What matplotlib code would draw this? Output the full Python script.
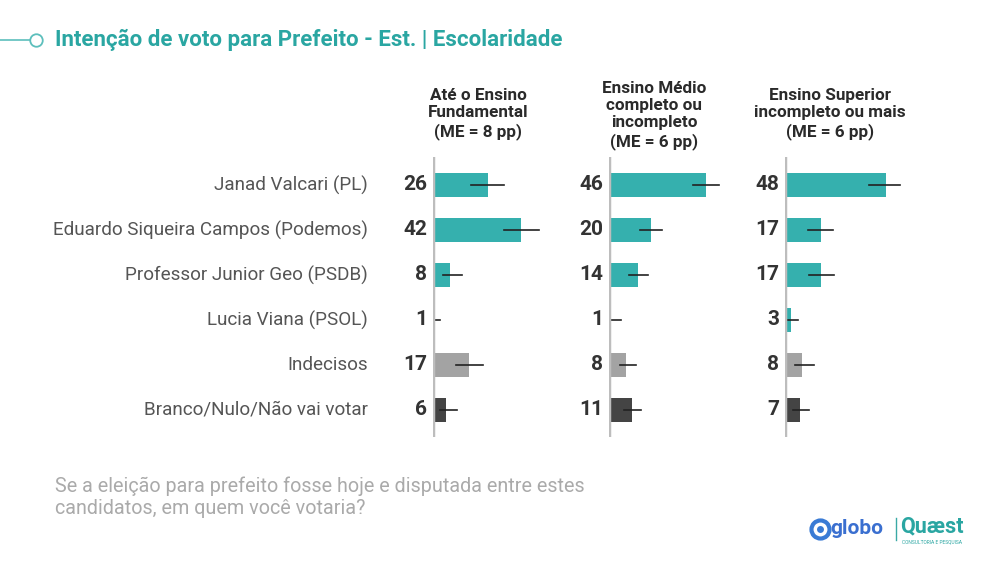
import matplotlib.pyplot as plt
from matplotlib.lines import Line2D

plt.rcParams['font.family'] = ['Roboto', 'DejaVu Sans']

candidatos = ['Janad Valcari (PL)', 'Eduardo Siqueira Campos (Podemos)',
              'Professor Junior Geo (PSDB)', 'Lucia Viana (PSOL)',
              'Indecisos', 'Branco/Nulo/Não vai votar']
grupos = ['Até o Ensino\nFundamental\n(ME = 8 pp)',
          'Ensino Médio\ncompleto ou\nincompleto\n(ME = 6 pp)',
          'Ensino Superior\nincompleto ou mais\n(ME = 6 pp)']
fundamental = [26, 42, 8, 1, 17, 6]
medio = [46, 20, 14, 1, 8, 11]
superior = [48, 17, 17, 3, 8, 7]
valores = [fundamental, medio, superior]

# intervals (lower, upper)
inf_fundamental = [18, 34, 5, 0, 11, 3.3]
sup_fundamental = [34, 50.5, 13.7, 3.5, 24, 11.2]
inf_medio = [40, 14.8, 9.5, 0, 5.2, 7.1]
sup_medio = [52.4, 25.1, 18.4, 5.7, 12.7, 15.1]
inf_superior = [40, 10.9, 11.2, 0, 5, 4]
sup_superior = [55, 23, 23.4, 6.1, 14, 11.2]
inferiores = [inf_fundamental, inf_medio, inf_superior]
superiores = [sup_fundamental, sup_medio, sup_superior]

teal = '#35b0ae'
cores = [teal, teal, teal, teal, '#a3a3a3', '#444444']

W, H = 984, 561
fig = plt.figure(figsize=(W / 100, H / 100), dpi=100)

def fx(px):
    return px / W

def fy(py):
    return 1 - py / H

# title + little line/circle decoration
fig.text(fx(55), fy(40), 'Intenção de voto para Prefeito - Est. | Escolaridade',
         color='#2aa6a2', fontsize=16, fontweight='bold', va='center', ha='left')
fig.add_artist(Line2D([0, fx(31)], [fy(40), fy(40)], color='#5cbfbc', lw=1.2))
fig.add_artist(Line2D([fx(36)], [fy(40)], marker='o', ms=9, mfc='white',
                      mec='#5cbfbc', mew=1.3))

# row labels
for i, c in enumerate(candidatos):
    fig.text(fx(368), fy(185 + 45 * i), c, ha='right', va='center',
             fontsize=13.6, color='#555555')

for k in range(3):
    left = 433 + 176 * k
    ax = fig.add_axes([fx(left), fy(437), fx(160), (437 - 157) / H])
    vals = valores[k]
    ax.barh(range(6), vals, height=0.52, color=cores, zorder=2)
    for i, v in enumerate(vals):
        ax.plot([inferiores[k][i], superiores[k][i]], [i, i], color='#222222',
                lw=1.2, zorder=3)
        ax.annotate(str(v), xy=(0, i), xytext=(-4, 0), textcoords='offset points',
                    ha='right', va='center', fontsize=15, fontweight='bold',
                    color='#333333')
    ax.axvline(0, color='#bdbdbd', lw=2.5, zorder=4)
    ax.set_xlim(0, 76.2)
    ax.set_ylim(5.6, -0.62)
    ax.axis('off')
    fig.text(fx(left + 45), fy(140 if k != 1 else 150), grupos[k], ha='center',
             va='bottom', fontsize=12.3, fontweight='bold', color='#2a2a2a',
             linespacing=1.2)

# footer
fig.text(fx(55), fy(486), 'Se a eleição para prefeito fosse hoje e disputada entre estes',
         fontsize=14.2, color='#aaaaaa', va='center')
fig.text(fx(55), fy(508), 'candidatos, em quem você votaria?',
         fontsize=14.2, color='#aaaaaa', va='center')

# logos
fig.add_artist(Line2D([fx(820)], [fy(529)], marker='o', ms=13, mfc='white',
                      mec='#3a7bd5', mew=3))
fig.add_artist(Line2D([fx(820)], [fy(529)], marker='o', ms=5, mfc='#3a7bd5',
                      mec='none'))
fig.text(fx(830), fy(528), 'globo', fontsize=15, fontweight='bold', color='#3a6fd0',
         va='center', ha='left')
fig.add_artist(Line2D([fx(896), fx(896)], [fy(518), fy(540)], color='#3aa9a5', lw=1))
fig.text(fx(900), fy(526), 'Quæst', fontsize=15.5, fontweight='bold', color='#2aa6a2',
         va='center', ha='left')
fig.text(fx(902), fy(542), 'CONSULTORIA E PESQUISA', fontsize=3.5, color='#2aa6a2',
         va='center', ha='left')

fig.savefig('out.png', dpi=100)
